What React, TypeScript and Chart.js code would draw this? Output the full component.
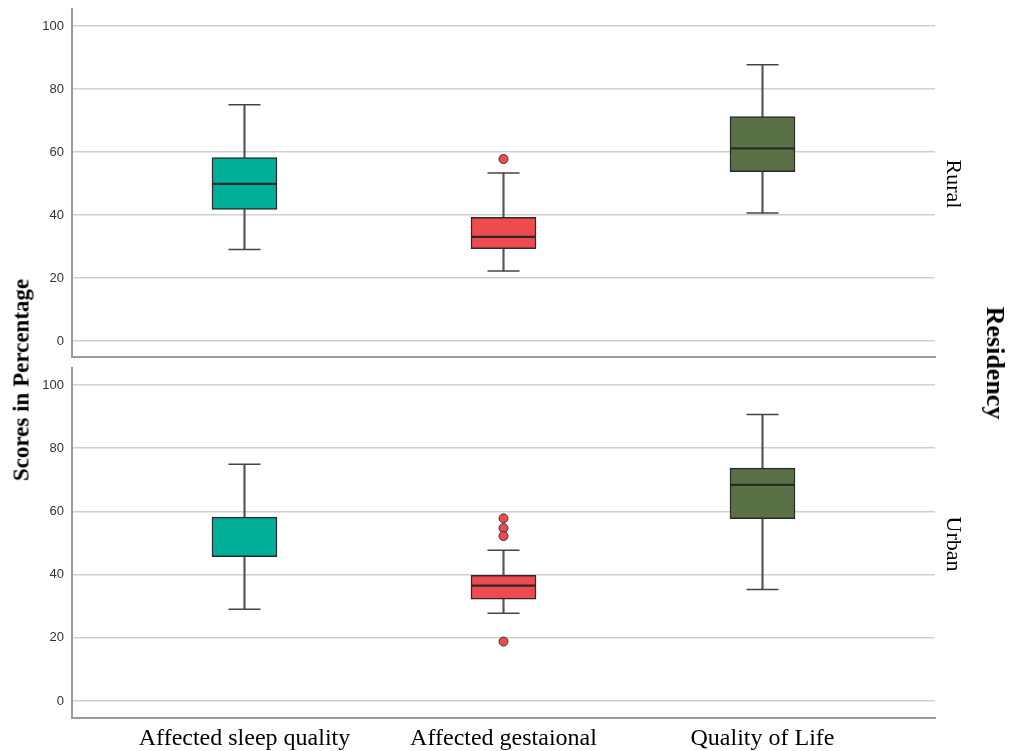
import React, { useEffect, useRef } from "react";
import { Chart, registerables } from "chart.js";

Chart.register(...registerables);

// ---- data ----
const categories = ["Affected sleep quality", "Affected gestaional", "Quality of Life"];
const boxColors = ["#00AF9A", "#EE4B50", "#5A7047"];
const yTickValues = [0, 20, 40, 60, 80, 100];

// Rural panel
const ruralMin = [29.1, 22.3, 40.7];
const ruralQ1 = [41.8, 29.4, 53.8];
const ruralMedian = [49.9, 33.1, 61.2];
const ruralQ3 = [58.3, 39.3, 71.3];
const ruralMax = [75.0, 53.4, 87.7];
const ruralOutliers = [[], [57.8], []];

// Urban panel
const urbanMin = [29.0, 27.8, 35.3];
const urbanQ1 = [45.7, 32.2, 57.7];
const urbanMedian = [45.7, 36.5, 68.4];
const urbanQ3 = [58.2, 39.8, 73.7];
const urbanMax = [74.9, 47.7, 90.7];
const urbanOutliers = [[], [57.8, 54.7, 52.2, 18.8], []];

const SERIF = '"Liberation Serif", "Times New Roman", serif';
const SANS = '"Liberation Sans", Arial, sans-serif';

type Panel = {
  min: number[];
  q1: number[];
  med: number[];
  q3: number[];
  max: number[];
  out: number[][];
};

function makeConfig(p: Panel, showX: boolean, yMin: number, yMax: number, padTop: number): any {
  const idx = categories.map((_, i) => i);
  const outPts: { x: number; y: number }[] = [];
  const outCols: string[] = [];
  p.out.forEach((arr, i) =>
    arr.forEach((v) => {
      outPts.push({ x: i, y: v });
      outCols.push(boxColors[i]);
    })
  );
  return {
    type: "bar",
    data: {
      datasets: [
        {
          type: "bar",
          data: idx.map((i) => ({ x: i, y: [p.min[i], p.max[i]] })),
          backgroundColor: "#555555",
          barThickness: 1.5,
          grouped: false,
          order: 3,
        },
        {
          type: "bar",
          data: idx.map((i) => ({ x: i, y: [p.q1[i], p.med[i]] })),
          backgroundColor: boxColors,
          borderColor: "#2b2b2b",
          borderWidth: 1.5,
          borderSkipped: false,
          barThickness: 65,
          grouped: false,
          order: 2,
        },
        {
          type: "bar",
          data: idx.map((i) => ({ x: i, y: [p.med[i], p.q3[i]] })),
          backgroundColor: boxColors,
          borderColor: "#2b2b2b",
          borderWidth: 1.5,
          borderSkipped: false,
          barThickness: 65,
          grouped: false,
          order: 2,
        },
        {
          type: "scatter",
          data: [
            ...idx.map((i) => ({ x: i, y: p.min[i] })),
            ...idx.map((i) => ({ x: i, y: p.max[i] })),
          ],
          pointStyle: "line",
          pointRadius: 16,
          borderColor: "#444444",
          borderWidth: 1.5,
          order: 1,
        },
        {
          type: "scatter",
          data: outPts,
          pointStyle: "circle",
          pointRadius: 4.5,
          backgroundColor: outCols,
          borderColor: "#333333",
          borderWidth: 1,
          order: 0,
        },
      ],
    },
    options: {
      animation: false,
      responsive: true,
      maintainAspectRatio: false,
      events: [],
      layout: { autoPadding: false, padding: { top: padTop, right: 75, left: 0, bottom: 0 } },
      plugins: { legend: { display: false }, tooltip: { enabled: false } },
      scales: {
        x: {
          type: "linear",
          min: -0.666,
          max: 2.666,
          offset: false,
          grid: { display: false, drawTicks: false },
          border: { display: true, color: "#9a9a9a", width: 2 },
          afterBuildTicks: (s: any) => {
            s.ticks = idx.map((v) => ({ value: v }));
          },
          afterFit: (s: any) => {
            s.height = showX ? 33 : 5;
            s.paddingLeft = 0;
            s.paddingRight = 0;
          },
          ticks: {
            display: showX,
            autoSkip: false,
            maxRotation: 0,
            minRotation: 0,
            padding: 6,
            color: "#000000",
            font: { family: SERIF, size: 24 },
            callback: (v: any) => categories[v] ?? "",
          },
        },
        y: {
          type: "linear",
          min: yMin,
          max: yMax,
          afterBuildTicks: (s: any) => {
            s.ticks = yTickValues.map((v) => ({ value: v }));
          },
          afterFit: (s: any) => {
            s.width = 72;
            s.paddingTop = 0;
            s.paddingBottom = 0;
          },
          grid: { color: "#cfcfcf", lineWidth: 1.5, drawTicks: false },
          border: { display: true, color: "#9a9a9a", width: 2 },
          ticks: {
            padding: 8,
            color: "#333333",
            font: { family: SANS, size: 13 },
          },
        },
      },
    },
  };
}

const rotated = (
  text: string,
  cx: number,
  cy: number,
  deg: number,
  size: number,
  bold: boolean
): React.ReactElement => (
  <div
    style={{
      position: "absolute",
      left: cx,
      top: cy,
      transform: `translate(-50%, -50%) rotate(${deg}deg)`,
      fontFamily: SERIF,
      fontSize: size,
      fontWeight: bold ? "bold" : "normal",
      whiteSpace: "nowrap",
      color: "#000",
      lineHeight: 1,
    }}
  >
    {text}
  </div>
);

export default function App() {
  const topRef = useRef<HTMLCanvasElement | null>(null);
  const botRef = useRef<HTMLCanvasElement | null>(null);

  useEffect(() => {
    const rural: Panel = {
      min: ruralMin,
      q1: ruralQ1,
      med: ruralMedian,
      q3: ruralQ3,
      max: ruralMax,
      out: ruralOutliers,
    };
    const urban: Panel = {
      min: urbanMin,
      q1: urbanQ1,
      med: urbanMedian,
      q3: urbanQ3,
      max: urbanMax,
      out: urbanOutliers,
    };
    const c1 = new Chart(topRef.current as HTMLCanvasElement, makeConfig(rural, false, -5, 105.4, 9));
    const c2 = new Chart(botRef.current as HTMLCanvasElement, makeConfig(urban, true, -5.4, 105.4, 6));
    return () => {
      c1.destroy();
      c2.destroy();
    };
  }, []);

  return (
    <div
      style={{
        position: "absolute",
        left: 0,
        top: 0,
        width: 1010,
        height: 751,
        background: "#fff",
        overflow: "hidden",
      }}
    >
      <div style={{ position: "absolute", left: 0, top: 0, width: 1010, height: 362 }}>
        <canvas ref={topRef} />
      </div>
      <div style={{ position: "absolute", left: 0, top: 362, width: 1010, height: 389 }}>
        <canvas ref={botRef} />
      </div>
      {rotated("Scores in Percentage", 21, 380, -90, 23, true)}
      {rotated("Rural", 954, 184, 90, 22, false)}
      {rotated("Urban", 954, 544, 90, 22, false)}
      {rotated("Residency", 995, 363, 90, 26, true)}
    </div>
  );
}
